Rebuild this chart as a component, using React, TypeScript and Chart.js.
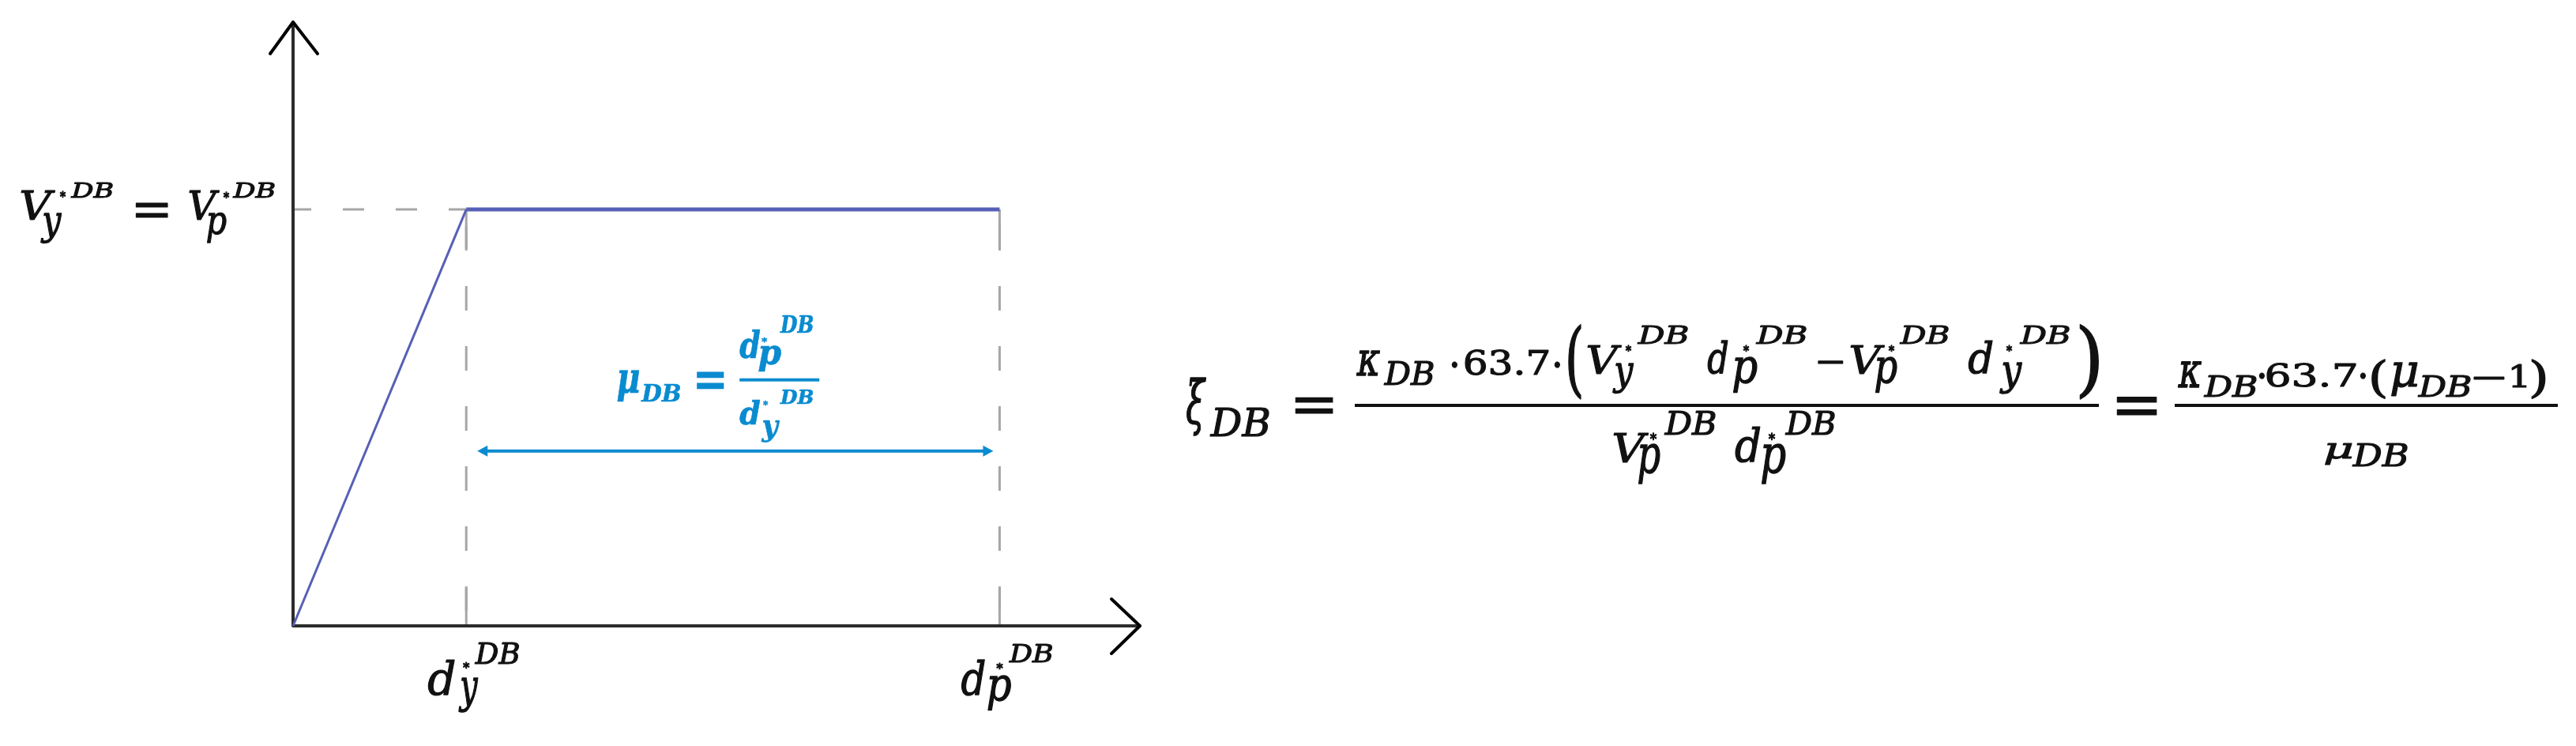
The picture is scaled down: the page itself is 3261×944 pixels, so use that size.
import React, { useEffect, useRef } from 'react';
import { Chart, registerables } from 'chart.js';

Chart.register(...registerables);

const W = 3261;
const H = 944;

// ---- data (idealised bilinear capacity curve, normalised units) ----
const displacement = [0, 1.0, 4.08]; // 0, d_y*^DB, d_p*^DB
const shear = [0, 1.0, 1.0]; // 0, V_y*^DB, V_p*^DB (= V_y*^DB)
const ductilityArrowLevel = [0.42]; // level of the μ_DB dimension arrow
const axisMax = [4.89, 1.45]; // extent of the x and y axes (arrow tips)

const D_Y = displacement[1];
const D_P = displacement[2];
const V_Y = shear[1];

const FAM = '"DejaVu Serif", "Liberation Serif", serif';
const IT = `italic 60px ${FAM}`;
const RM = `60px ${FAM}`;
const BI = `italic bold 60px ${FAM}`;
const BR = `bold 60px ${FAM}`;

const INK = '#111111';
const BLUE = '#0a8bd0';
const CURVE = '#5660b6';
const AXIS = '#2b2b2b';
const DASH = '#a6a6a6';

type Piece = [string, string, number, number, number, number];

function fit(ctx: CanvasRenderingContext2D, p: Piece, color: string, ox = 0, oy = 0, weight = 0) {
  const [s, font, x1, y1, x2, y2] = p;
  ctx.save();
  ctx.font = font;
  ctx.fillStyle = color;
  ctx.strokeStyle = color;
  ctx.textAlign = 'left';
  ctx.textBaseline = 'alphabetic';
  const m = ctx.measureText(s);
  const w = m.actualBoundingBoxLeft + m.actualBoundingBoxRight;
  const h = m.actualBoundingBoxAscent + m.actualBoundingBoxDescent;
  const sx = (x2 - x1) / w;
  const sy = (y2 - y1) / h;
  ctx.translate(ox + x1 + m.actualBoundingBoxLeft * sx, oy + y1 + m.actualBoundingBoxAscent * sy);
  ctx.scale(sx, sy);
  ctx.fillText(s, 0, 0);
  if (weight > 0) {
    ctx.lineWidth = weight / Math.sqrt(sx * sy);
    ctx.lineJoin = 'round';
    ctx.strokeText(s, 0, 0);
  }
  ctx.restore();
}

// y-axis label: x absolute, y relative to the plateau level
const yLabel: Piece[] = [
  ['V', IT, 27, -25, 70, 13],
  ['y', IT, 51, 4, 78, 42],
  ['*', RM, 76, -23, 83, -15],
  ['DB', IT, 90, -34, 143, -15],
  ['=', RM, 172, -8, 212, 10],
  ['V', IT, 240, -25, 278, 13],
  ['p', IT, 262, 4, 286, 42],
  ['*', RM, 283, -22, 290, -14],
  ['DB', IT, 295, -34, 348, -15],
];

// x-axis labels: relative to the tick position and the axis line
const dyLabel: Piece[] = [
  ['d', IT, -48, 43, -15, 88],
  ['y', IT, -10, 65, 15, 108],
  ['*', RM, -4, 46, 4, 54],
  ['DB', IT, 11, 21, 67, 48],
];
const dpLabel: Piece[] = [
  ['d', IT, -48, 43, -19, 88],
  ['p', IT, -15, 63, 14, 106],
  ['*', RM, -4, 47, 4, 55],
  ['DB', IT, 12, 23, 67, 46],
];

// blue ductility label: relative to (d_y tick, arrow level)
const muLabel: Piece[] = [
  ['μ', BI, 191, -102, 219, -63],
  ['DB', BI, 221, -85, 271, -63],
  ['=', BR, 292, -100, 326, -79],
  ['d', BI, 346, -153, 372, -117],
  ['p', BI, 370, -133, 399, -100],
  ['*', BR, 374, -143, 381, -137],
  ['DB', BI, 397, -172, 439, -150],
  ['d', BI, 346, -65, 372, -33],
  ['y', BI, 373, -40, 397, -12],
  ['*', BR, 376, -63, 382, -57],
  ['DB', BI, 397, -78, 439, -60],
];
const muBar = [346, 447, -90];

// damping formula (absolute layout)
const formula: Piece[] = [
  ['ξ', IT, 1502, 478, 1527, 550],
  ['DB', IT, 1532, 517, 1607, 552],
  ['=', RM, 1640, 503, 1687, 523],
  ['κ', IT, 1717, 443, 1747, 475],
  ['DB', IT, 1752, 457, 1815, 487],
  ['·', RM, 1838, 458, 1845, 465],
  ['63.7', RM, 1855, 442, 1960, 475],
  ['·', RM, 1968, 458, 1975, 465],
  ['(', RM, 1985, 410, 2002, 506],
  ['V', IT, 2010, 437, 2053, 473],
  ['y', IT, 2041, 459, 2068, 497],
  ['*', RM, 2058, 437, 2065, 445],
  ['DB', IT, 2073, 412, 2137, 435],
  ['d', IT, 2162, 430, 2187, 473],
  ['p', IT, 2194, 452, 2224, 497],
  ['*', RM, 2207, 437, 2214, 445],
  ['DB', IT, 2223, 412, 2287, 435],
  ['−', RM, 2302, 456, 2333, 460],
  ['V', IT, 2343, 437, 2386, 473],
  ['p', IT, 2374, 452, 2401, 497],
  ['*', RM, 2391, 437, 2398, 445],
  ['DB', IT, 2405, 412, 2467, 435],
  ['d', IT, 2492, 430, 2522, 473],
  ['y', IT, 2531, 458, 2560, 497],
  ['*', RM, 2540, 437, 2547, 445],
  ['DB', IT, 2557, 412, 2620, 435],
  [')', RM, 2633, 410, 2657, 506],
  ['V', IT, 2043, 547, 2087, 585],
  ['p', IT, 2074, 562, 2101, 612],
  ['*', RM, 2089, 548, 2097, 557],
  ['DB', IT, 2107, 520, 2172, 550],
  ['d', IT, 2197, 540, 2228, 585],
  ['p', IT, 2230, 562, 2260, 612],
  ['*', RM, 2239, 548, 2247, 557],
  ['DB', IT, 2260, 520, 2323, 550],
  ['=', RM, 2680, 502, 2730, 525],
  ['κ', IT, 2757, 457, 2787, 490],
  ['DB', IT, 2790, 475, 2857, 502],
  ['·', RM, 2860, 472, 2867, 479],
  ['63.7', RM, 2870, 460, 2982, 490],
  ['·', RM, 2988, 472, 2995, 479],
  ['(', RM, 3002, 455, 3020, 505],
  ['μ', IT, 3027, 458, 3060, 500],
  ['DB', IT, 3061, 475, 3128, 502],
  ['−', RM, 3132, 476, 3170, 480],
  ['1', RM, 3180, 460, 3198, 490],
  [')', RM, 3205, 455, 3222, 505],
  ['μ', IT, 2943, 560, 2977, 587],
  ['DB', IT, 2978, 562, 3048, 590],
];
const formulaBars = [
  [1715, 2657, 513],
  [2753, 3238, 513],
];

const diagramPlugin = {
  id: 'diagram',
  beforeDatasetsDraw(chart: any) {
    const ctx: CanvasRenderingContext2D = chart.ctx;
    const xs = chart.scales.x;
    const ys = chart.scales.y;
    const x0 = xs.getPixelForValue(0);
    const y0 = ys.getPixelForValue(0);
    const xTip = xs.getPixelForValue(axisMax[0]);
    const yTip = ys.getPixelForValue(axisMax[1]);
    const pxY = xs.getPixelForValue(D_Y);
    const pxP = xs.getPixelForValue(D_P);
    const pyV = ys.getPixelForValue(V_Y);

    ctx.save();
    // dashed guides
    ctx.strokeStyle = DASH;
    ctx.lineWidth = 3;
    ctx.lineCap = 'butt';
    ctx.setLineDash([27, 40]);
    ctx.lineDashOffset = 4;
    ctx.beginPath();
    ctx.moveTo(x0, pyV);
    ctx.lineTo(pxY, pyV);
    ctx.stroke();
    for (const px of [pxY, pxP]) {
      ctx.setLineDash([31, 45]);
      ctx.lineDashOffset = 55;
      ctx.beginPath();
      ctx.moveTo(px, pyV);
      ctx.lineTo(px, y0);
      ctx.stroke();
      ctx.setLineDash([]);
      ctx.beginPath();
      ctx.moveTo(px, y0 - 48);
      ctx.lineTo(px, y0);
      ctx.moveTo(px, pyV);
      ctx.lineTo(px, pyV + 50);
      ctx.stroke();
    }
    ctx.setLineDash([]);

    // axes with open arrowheads
    ctx.strokeStyle = AXIS;
    ctx.lineWidth = 4;
    ctx.lineCap = 'round';
    ctx.lineJoin = 'round';
    ctx.beginPath();
    ctx.moveTo(x0, y0);
    ctx.lineTo(xTip, y0);
    ctx.moveTo(x0, y0);
    ctx.lineTo(x0, yTip);
    ctx.stroke();
    ctx.strokeStyle = '#000';
    ctx.beginPath();
    ctx.moveTo(xTip - 36, y0 - 34);
    ctx.lineTo(xTip, y0);
    ctx.lineTo(xTip - 36, y0 + 35);
    ctx.moveTo(x0 - 29, yTip + 40);
    ctx.lineTo(x0, yTip);
    ctx.lineTo(x0 + 31, yTip + 40);
    ctx.stroke();
    ctx.restore();
  },
  afterDatasetsDraw(chart: any) {
    const ctx: CanvasRenderingContext2D = chart.ctx;
    const xs = chart.scales.x;
    const ys = chart.scales.y;
    const y0 = ys.getPixelForValue(0);
    const pxY = xs.getPixelForValue(D_Y);
    const pxP = xs.getPixelForValue(D_P);
    const pyV = ys.getPixelForValue(V_Y);
    const pyA = ys.getPixelForValue(ductilityArrowLevel[0]);

    ctx.save();
    // blue dimension arrow
    const a1 = pxY + 14;
    const a2 = pxP - 8;
    ctx.strokeStyle = BLUE;
    ctx.fillStyle = BLUE;
    ctx.lineWidth = 4;
    ctx.beginPath();
    ctx.moveTo(a1 + 6, pyA);
    ctx.lineTo(a2 - 6, pyA);
    ctx.stroke();
    ctx.beginPath();
    ctx.moveTo(a1, pyA);
    ctx.lineTo(a1 + 13, pyA - 7);
    ctx.lineTo(a1 + 13, pyA + 7);
    ctx.closePath();
    ctx.fill();
    ctx.beginPath();
    ctx.moveTo(a2, pyA);
    ctx.lineTo(a2 - 13, pyA - 7);
    ctx.lineTo(a2 - 13, pyA + 7);
    ctx.closePath();
    ctx.fill();

    // labels
    for (const p of yLabel) fit(ctx, p, INK, 0, pyV, 1.2);
    for (const p of dyLabel) fit(ctx, p, INK, pxY, y0, 1.2);
    for (const p of dpLabel) fit(ctx, p, INK, pxP, y0, 1.2);
    for (const p of muLabel) fit(ctx, p, BLUE, pxY, pyA, 0.6);
    ctx.fillStyle = BLUE;
    ctx.fillRect(pxY + muBar[0], pyA + muBar[2] - 2, muBar[1] - muBar[0], 4);

    // damping formula
    for (const p of formula) fit(ctx, p, INK, 0, 0, 1.2);
    ctx.fillStyle = INK;
    for (const [b1, b2, by] of formulaBars) ctx.fillRect(b1, by - 2, b2 - b1, 4);
    ctx.restore();
  },
};

export default function App() {
  const ref = useRef<HTMLCanvasElement | null>(null);
  useEffect(() => {
    if (!ref.current) return;
    const chart = new Chart(ref.current, {
      type: 'line',
      data: {
        datasets: [
          {
            data: displacement.map((x, i) => ({ x, y: shear[i] })),
            borderColor: CURVE,
            borderWidth: 4,
            pointRadius: 0,
            tension: 0,
            clip: false as any,
            segment: {
              borderWidth: (c: any) => (c.p0DataIndex === 0 ? 3 : 5),
            },
          } as any,
        ],
      },
      options: {
        animation: false,
        responsive: false,
        maintainAspectRatio: false,
        layout: { padding: { left: 371, right: W - 1443, top: 28, bottom: H - 792 } },
        scales: {
          x: { type: 'linear', min: 0, max: axisMax[0], display: false },
          y: { type: 'linear', min: 0, max: axisMax[1], display: false },
        },
        plugins: { legend: { display: false }, tooltip: { enabled: false } },
      },
      plugins: [diagramPlugin],
    });
    return () => chart.destroy();
  }, []);
  return (
    <div style={{ position: 'absolute', left: 0, top: 0, width: W, height: H, background: '#fff' }}>
      <canvas ref={ref} width={W} height={H} style={{ width: W, height: H, display: 'block' }} />
    </div>
  );
}
